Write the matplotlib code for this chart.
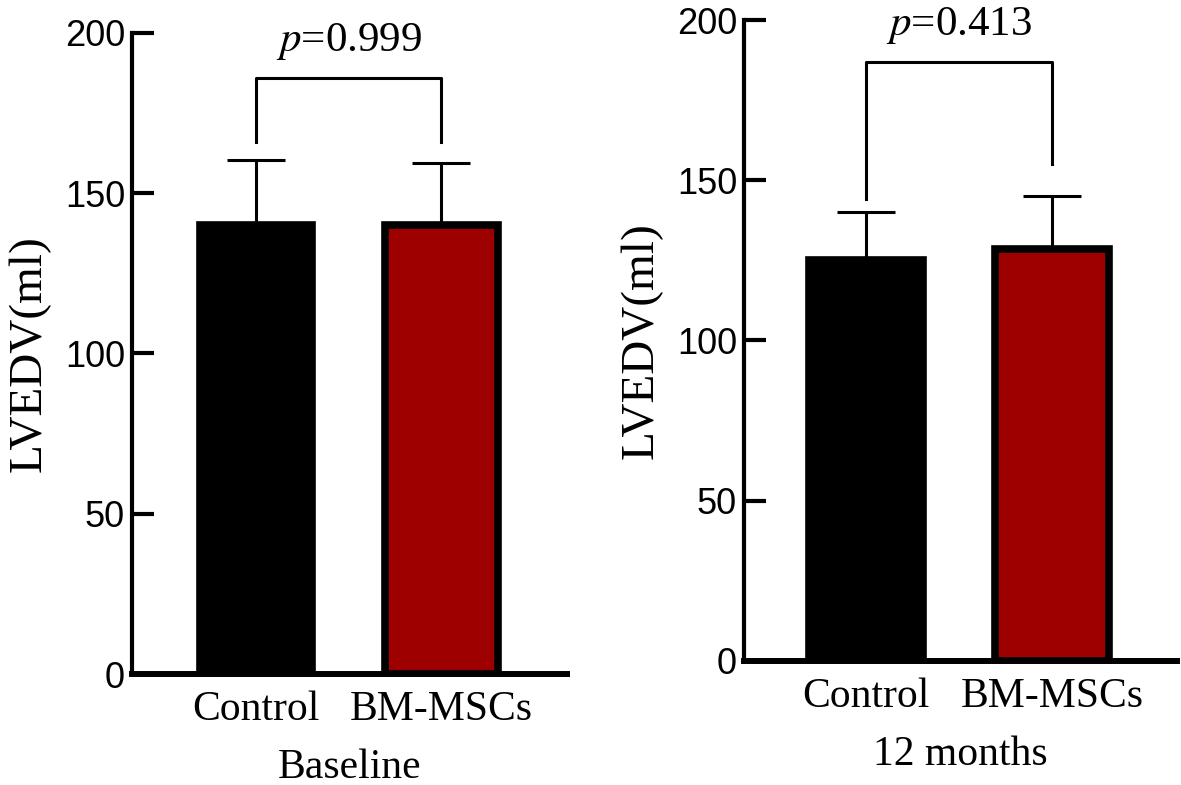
import matplotlib
matplotlib.use("Agg")
import matplotlib.pyplot as plt
import numpy as np

# donnees
groups = ["Control", "BM-MSCs"]
baseline_mean = [140, 140]
baseline_sd = [20.5, 19.5]
month12_mean = [125, 128.5]
month12_sd = [15, 16.5]
p_baseline = "0.999"
p_month12 = "0.413"
yticks = [0, 50, 100, 150, 200]

red = "#9E0000"
serif = "Liberation Serif"
sans = "Liberation Sans"

fig = plt.figure(figsize=(11.81, 7.85), dpi=100)
ax1 = fig.add_axes([0.1118, 0.1414, 0.3683, 0.8166])
ax2 = fig.add_axes([0.6300, 0.1580, 0.3666, 0.8165])


def panel(ax, mean, sd, pval, xlabel, bracket_y, legs, xlim):
    x = np.arange(len(groups))
    ax.bar(x, mean, width=0.61, color=["black", red], edgecolor="black",
           linewidth=5.5, zorder=2)
    ax.errorbar(x, mean, yerr=[np.zeros(len(sd)), sd], fmt="none",
                ecolor="black", elinewidth=2.2, capsize=21, capthick=2.2,
                zorder=1)
    # crochet du test
    ax.plot([0, 0, 1, 1], [legs[0], bracket_y, bracket_y, legs[1]],
            color="black", linewidth=2.2, zorder=3)
    ax.text(0.5, bracket_y + 5, r"$\it{p}$=" + pval, ha="center", va="bottom",
            fontsize=31, family=serif, math_fontfamily="stix")

    ax.set_xlim(*xlim)
    ax.set_ylim(0, 200)
    ax.set_yticks(yticks)
    ax.set_xticks(x)
    ax.set_xticklabels(groups, fontsize=30, family=serif)
    for lab in ax.get_yticklabels():
        lab.set_family(sans)
        lab.set_fontsize(26)
    ax.tick_params(axis="y", direction="in", length=16, width=3, pad=5)
    ax.tick_params(axis="x", length=0, pad=12)
    ax.spines["top"].set_visible(False)
    ax.spines["right"].set_visible(False)
    ax.spines["left"].set_linewidth(3)
    ax.spines["bottom"].set_linewidth(4.3)
    ax.set_xlabel(xlabel, fontsize=30, family=serif, labelpad=14)
    ax.set_ylabel("LVEDV(ml)", fontsize=34, family=serif, labelpad=10)


panel(ax1, baseline_mean, baseline_sd, p_baseline, "Baseline", 186, [166, 166],
      (-0.67, 1.68))
panel(ax2, month12_mean, month12_sd, p_month12, "12 months", 187, [144, 155],
      (-0.656, 1.672))

fig.savefig("out.png", dpi=100)
